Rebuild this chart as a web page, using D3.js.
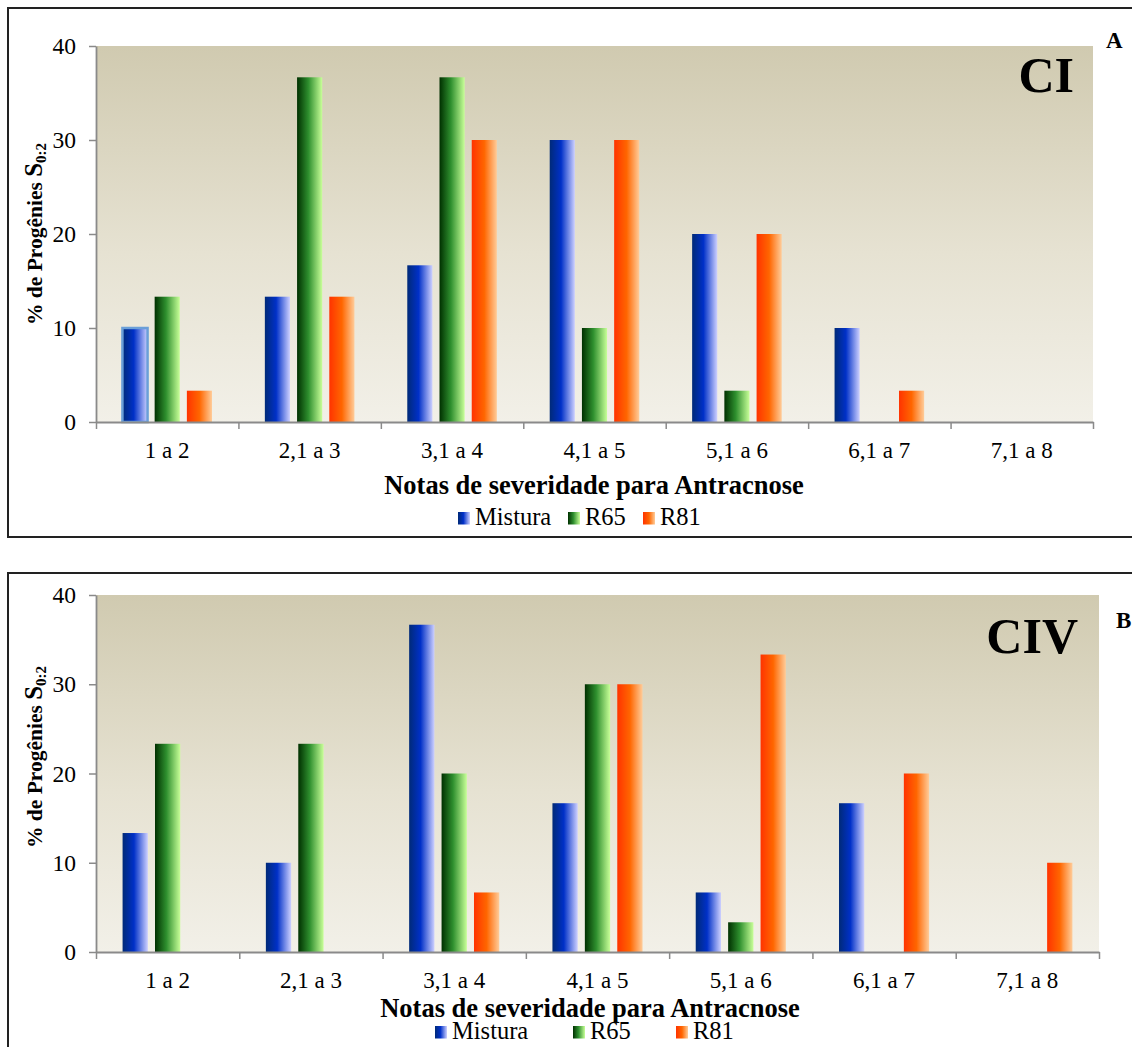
<!DOCTYPE html>
<html>
<head>
<meta charset="utf-8">
<script src="https://cdn.jsdelivr.net/npm/d3@7"></script>
<style>
  html, body { margin: 0; padding: 0; background: #ffffff; }
  svg { display: block; }
  svg text { font-family: 'Liberation Serif', 'Times New Roman', serif; fill: #000; }
</style>
</head>
<body>
<svg id="chart" width="1132" height="1047"></svg>
<script>
// ---- data ----
const categories = ["1 a 2", "2,1 a 3", "3,1 a 4", "4,1 a 5", "5,1 a 6", "6,1 a 7", "7,1 a 8"];
const seriesNames = ["Mistura", "R65", "R81"];
const yTicks = [0, 10, 20, 30, 40];

// Chart A (CI)
const ciMistura = [10, 13.33, 16.67, 30, 20, 10, 0];
const ciR65     = [13.33, 36.67, 36.67, 10, 3.33, 0, 0];
const ciR81     = [3.33, 13.33, 30, 30, 20, 3.33, 0];

// Chart B (CIV)
const civMistura = [13.33, 10, 36.67, 16.67, 6.67, 16.67, 0];
const civR65     = [23.33, 23.33, 20, 30, 3.33, 0, 0];
const civR81     = [0, 0, 6.67, 30, 33.33, 20, 10];

const xTitle = "Notas de severidade para Antracnose";

// ---- drawing ----
const FONT = "'Liberation Serif', 'Times New Roman', serif";
const svg = d3.select("#chart");
const defs = svg.append("defs");

function hGrad(id, stops) {
  const g = defs.append("linearGradient").attr("id", id)
    .attr("x1", "0%").attr("x2", "100%").attr("y1", "0%").attr("y2", "0%");
  stops.forEach(s => g.append("stop").attr("offset", s[0]).attr("stop-color", s[1]));
}
hGrad("gMistura", [["0%", "#002a78"], ["45%", "#0030c8"], ["100%", "#cdd0ff"]]);
hGrad("gR65", [["0%", "#003000"], ["45%", "#2e8f2e"], ["100%", "#c8ff98"]]);
hGrad("gR81", [["0%", "#ff3300"], ["50%", "#ff6600"], ["100%", "#ffcc99"]]);
const vg = defs.append("linearGradient").attr("id", "gBg")
  .attr("x1", "0%").attr("x2", "0%").attr("y1", "0%").attr("y2", "100%");
vg.append("stop").attr("offset", "0%").attr("stop-color", "#d0cab0");
vg.append("stop").attr("offset", "55%").attr("stop-color", "#e6e2d2");
vg.append("stop").attr("offset", "100%").attr("stop-color", "#f2f0e8");

const fills = { "Mistura": "url(#gMistura)", "R65": "url(#gR65)", "R81": "url(#gR81)" };

function drawChart(cfg) {
  const { values, left, right, top, bottom, label, labelX, labelY, letter, letterX, letterY,
          titleY, titleX, yTitleCY, legendY, legendPos, highlight } = cfg;

  // frame
  svg.append("rect").attr("x", cfg.frame[0]).attr("y", cfg.frame[1])
    .attr("width", cfg.frame[2]).attr("height", cfg.frame[3])
    .attr("fill", "none").attr("stroke", "#222").attr("stroke-width", 2);

  const y = d3.scaleLinear().domain([0, 40]).range([bottom, top]);
  const x0 = d3.scaleBand().domain(categories).range([left, right]).paddingInner(0).paddingOuter(0);
  const x1 = d3.scaleBand().domain(seriesNames).range([0, x0.bandwidth()])
    .paddingInner(0.22).paddingOuter(0.82);
  const xb = d3.scaleLinear().domain([0, categories.length]).range([left, right]);

  // plot background
  svg.append("rect").attr("x", left).attr("y", top)
    .attr("width", right - left).attr("height", bottom - top).attr("fill", "url(#gBg)");

  // bars
  const gb = svg.append("g");
  categories.forEach((c, i) => {
    seriesNames.forEach((s, k) => {
      const v = values[k][i];
      if (v <= 0) return;
      const isHi = highlight && highlight.s === s && highlight.i === i;
      gb.append("rect")
        .attr("x", x0(c) + x1(s)).attr("y", y(v))
        .attr("width", x1.bandwidth()).attr("height", y(0) - y(v))
        .attr("fill", fills[s])
        .attr("stroke", isHi ? "#6a9fd8" : "none")
        .attr("stroke-width", 2.5);
    });
  });

  // y axis
  const ya = svg.append("g").attr("transform", `translate(${left},0)`)
    .call(d3.axisLeft(y).tickValues(yTicks).tickSize(7).tickSizeOuter(0).tickPadding(13));
  ya.attr("font-family", null).attr("font-size", null);
  ya.select(".domain").attr("stroke", "#8a8a8a").attr("stroke-width", 1.8);
  ya.selectAll(".tick line").attr("stroke", "#8a8a8a").attr("stroke-width", 1.5);
  ya.selectAll("text").style("font-size", "23.5px").style("font-family", FONT);

  // x axis boundaries
  const xa = svg.append("g").attr("transform", `translate(0,${bottom})`)
    .call(d3.axisBottom(xb).tickValues(d3.range(categories.length + 1)).tickFormat("").tickSize(7).tickSizeOuter(0));
  xa.select(".domain").attr("stroke", "#8a8a8a").attr("stroke-width", 1.8);
  xa.selectAll(".tick line").attr("stroke", "#8a8a8a").attr("stroke-width", 1.5);

  // x category labels
  const xl = svg.append("g").attr("transform", `translate(0,${bottom})`)
    .call(d3.axisBottom(x0).tickSize(0));
  xl.attr("font-family", null).attr("font-size", null);
  xl.select(".domain").remove();
  xl.selectAll("text").attr("y", 36).attr("dy", 0)
    .style("font-size", "23px").style("font-family", FONT);

  // x title
  svg.append("text").attr("x", titleX).attr("y", titleY).attr("text-anchor", "middle")
    .style("font-family", FONT)
    .style("font-size", "26.5px").style("font-weight", "bold").text(xTitle);

  // y title
  const yt = svg.append("text").attr("transform", `translate(42,${yTitleCY}) rotate(-90)`)
    .attr("text-anchor", "middle").style("font-weight", "bold").style("font-size", "21.5px")
    .style("font-family", FONT);
  yt.append("tspan").text("% de Progênies ");
  yt.append("tspan").style("font-size", "25px").text("S");
  yt.append("tspan").style("font-size", "15px").attr("dy", 4).text("0:2");

  // big label
  svg.append("text").attr("x", labelX).attr("y", labelY).attr("text-anchor", "end")
    .style("font-family", FONT)
    .style("font-size", "50px").style("font-weight", "bold").text(label);
  svg.append("text").attr("x", letterX).attr("y", letterY)
    .style("font-family", FONT)
    .style("font-size", "23px").style("font-weight", "bold").text(letter);

  // legend
  seriesNames.forEach((s, k) => {
    const px = legendPos[k];
    svg.append("rect").attr("x", px).attr("y", legendY - 13).attr("width", 12).attr("height", 12.5)
      .attr("fill", fills[s]);
    svg.append("text").attr("x", px + 17).attr("y", legendY)
      .style("font-family", FONT).style("font-size", "24.5px").text(s);
  });
}

drawChart({
  values: [ciMistura, ciR65, ciR81],
  frame: [8, 8, 1140, 529],
  left: 96, right: 1093, top: 46, bottom: 422,
  label: "CI", labelX: 1074, labelY: 92,
  letter: "A", letterX: 1106, letterY: 48,
  titleX: 594, titleY: 494, yTitleCY: 234,
  legendY: 525, legendPos: [458, 568, 643],
  highlight: { s: "Mistura", i: 0 }
});

drawChart({
  values: [civMistura, civR65, civR81],
  frame: [8, 573, 1140, 500],
  left: 96, right: 1099, top: 595, bottom: 952,
  label: "CIV", labelX: 1078, labelY: 653,
  letter: "B", letterX: 1116, letterY: 628,
  titleX: 590, titleY: 1017, yTitleCY: 757,
  legendY: 1039, legendPos: [435, 573, 676],
  highlight: null
});
</script>
</body>
</html>
